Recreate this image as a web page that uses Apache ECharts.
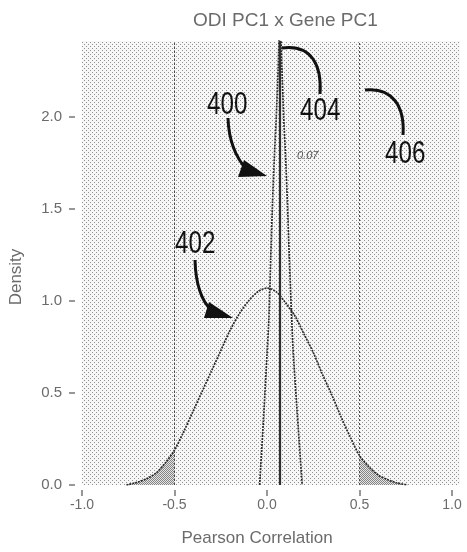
<!DOCTYPE html>
<html>
<head>
<meta charset="utf-8">
<script src="https://cdn.jsdelivr.net/npm/echarts@6/dist/echarts.min.js"></script>
<style>html,body{margin:0;padding:0;background:#fff;}#c{width:467px;height:552px;}</style>
</head>
<body>
<div id="c"></div>
<script>
// ---- data ----
const xTicks = [-1.0, -0.5, 0.0, 0.5, 1.0];
const yTicks = [0.0, 0.5, 1.0, 1.5, 2.0];
const wideX = [-0.76,-0.70,-0.65,-0.60,-0.55,-0.50,-0.45,-0.40,-0.35,-0.30,-0.25,-0.20,-0.15,-0.10,-0.05,0.00,0.05,0.10,0.15,0.20,0.25,0.30,0.35,0.40,0.45,0.50,0.55,0.60,0.65,0.70,0.76];
const wideY = [0.00,0.015,0.035,0.065,0.12,0.19,0.29,0.40,0.51,0.62,0.73,0.84,0.93,1.00,1.05,1.07,1.05,0.99,0.92,0.82,0.72,0.60,0.49,0.37,0.26,0.16,0.10,0.055,0.03,0.012,0.00];
const narrowX = [-0.04,-0.02,0.00,0.01,0.02,0.03,0.04,0.05,0.06,0.07,0.08,0.09,0.10,0.11,0.12,0.14,0.16,0.19];
const narrowY = [0.00,0.34,0.71,0.90,1.23,1.54,1.79,2.00,2.26,2.55,2.28,2.00,1.79,1.54,1.25,0.75,0.44,0.00];
const refLines = [-0.5, 0.07, 0.5];
const tailCut = 0.5;

function pattern(size, dots, color, bg) {
  const c = document.createElement('canvas');
  c.width = size; c.height = size;
  const ctx = c.getContext('2d');
  ctx.fillStyle = bg; ctx.fillRect(0, 0, size, size);
  ctx.fillStyle = color;
  dots.forEach(d => ctx.fillRect(d[0], d[1], 1, 1));
  return { image: c, repeat: 'repeat' };
}
const bgPat = pattern(4, [[0,0],[2,2]], '#909090', '#f7f7f7');
const tailPat = pattern(2, [[0,0],[1,1]], '#858585', '#e4e4e4');

const wide = wideX.map((x, i) => [x, wideY[i]]);
const narrow = narrowX.map((x, i) => [x, narrowY[i]]);
const leftTail = wide.filter(p => p[0] <= -tailCut);
const rightTail = wide.filter(p => p[0] >= tailCut);

const FONT = 'Liberation Sans, Arial, sans-serif';
const txtCol = '#6b6b6b';

const chart = echarts.init(document.getElementById('c'), null, { renderer: 'canvas' });

const lineStyleCurve = { color: '#2a2a2a', width: 1.7, type: [2, 1] };

function callout(text, x, y) {
  return { type: 'text', x: x, y: y, scaleX: 0.78, z: 20,
           style: { text: text, font: 'normal 31px ' + FONT, fill: '#111', verticalAlign: 'top', align: 'left' } };
}

chart.setOption({
  animation: false,
  backgroundColor: '#fff',
  title: {
    text: 'ODI PC1 x Gene PC1',
    left: 188, top: 6,
    textStyle: { fontFamily: FONT, fontSize: 19, fontWeight: 'normal', color: txtCol }
  },
  grid: {
    left: 82, right: 7, top: 41, bottom: 67,
    show: true, borderWidth: 0,
    backgroundColor: bgPat
  },
  xAxis: {
    type: 'value', min: -1.0, max: 1.043,
    offset: 5,
    axisLine: { show: false, onZero: false },
    axisTick: { show: true, length: 6, customValues: xTicks, lineStyle: { color: '#777', width: 1.5 } },
    axisLabel: { customValues: xTicks, margin: 8, fontFamily: FONT, fontSize: 14, color: txtCol,
                 formatter: v => v.toFixed(1) },
    splitLine: { show: false },
    name: 'Pearson Correlation', nameLocation: 'middle', nameGap: 40,
    nameTextStyle: { fontFamily: FONT, fontSize: 17, color: txtCol, padding: [0, 28, 0, 0] }
  },
  yAxis: {
    type: 'value', min: 0, max: 2.413,
    offset: 7,
    axisLine: { show: false, onZero: false },
    axisTick: { show: true, length: 6, customValues: yTicks, lineStyle: { color: '#777', width: 1.5 } },
    axisLabel: { customValues: yTicks, margin: 13, fontFamily: FONT, fontSize: 15, color: txtCol,
                 formatter: v => v.toFixed(1) },
    splitLine: { show: false },
    name: 'Density', nameLocation: 'middle', nameGap: 50, nameRotate: 90,
    nameTextStyle: { fontFamily: FONT, fontSize: 17, color: txtCol, padding: [0, 28, 0, 0] }
  },
  series: [
    {
      type: 'line', data: leftTail, symbol: 'none', silent: true,
      lineStyle: { width: 0 }, areaStyle: { color: tailPat, opacity: 1 }, z: 1
    },
    {
      type: 'line', data: rightTail, symbol: 'none', silent: true,
      lineStyle: { width: 0 }, areaStyle: { color: tailPat, opacity: 1 }, z: 1
    },
    {
      type: 'line', data: wide, symbol: 'none', smooth: 0.3, silent: true,
      lineStyle: lineStyleCurve, z: 3,
      markLine: {
        silent: true, symbol: 'none', label: { show: false },
        data: refLines.map(v => ({
          xAxis: v,
          lineStyle: Math.abs(v - 0.07) < 1e-6
            ? { color: '#2f2f2f', width: 2.2, type: 'solid' }
            : { color: '#4a4a4a', width: 1, type: [2, 2] }
        }))
      }
    },
    {
      type: 'line', data: narrow, symbol: 'none', smooth: 0.2, silent: true,
      lineStyle: lineStyleCurve, z: 3
    }
  ],
  graphic: [
    callout('400', 207, 90),
    callout('402', 175, 229),
    callout('404', 300, 96),
    callout('406', 385, 139),
    { type: 'text', x: 297, y: 150, z: 20, style: { text: '0.07', font: 'italic 11px ' + FONT, fill: '#555', verticalAlign: 'top' } },
    // arrows
    { type: 'bezierCurve', shape: { x1: 228, y1: 118, cpx1: 229, cpy1: 150, x2: 247, y2: 170 },
      style: { stroke: '#111', lineWidth: 3, fill: null }, z: 20 },
    { type: 'polygon', shape: { points: [[244, 160], [238, 177], [267, 176]] },
      style: { fill: '#111' }, z: 20 },
    { type: 'bezierCurve', shape: { x1: 195, y1: 260, cpx1: 196, cpy1: 296, x2: 212, y2: 311 },
      style: { stroke: '#111', lineWidth: 3, fill: null }, z: 20 },
    { type: 'polygon', shape: { points: [[209, 302], [204, 318], [233, 318]] },
      style: { fill: '#111' }, z: 20 },
    { type: 'bezierCurve', shape: { x1: 282, y1: 48, cpx1: 312, cpy1: 44, cpx2: 322, cpy2: 66, x2: 320, y2: 94 },
      style: { stroke: '#111', lineWidth: 3, fill: null }, z: 20 },
    { type: 'bezierCurve', shape: { x1: 365, y1: 90, cpx1: 392, cpy1: 87, cpx2: 405, cpy2: 106, x2: 403, y2: 135 },
      style: { stroke: '#111', lineWidth: 3, fill: null }, z: 20 }
  ]
});
</script>
</body>
</html>
